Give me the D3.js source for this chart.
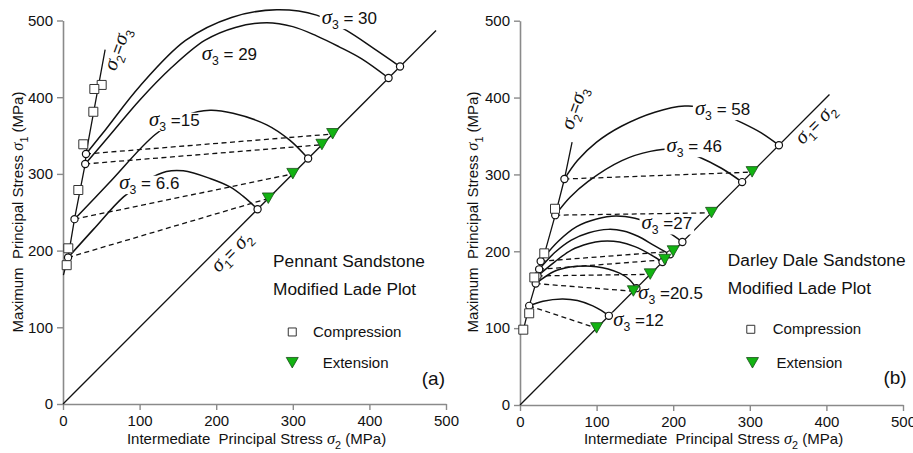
<!DOCTYPE html>
<html>
<head>
<meta charset="utf-8">
<script src="https://cdn.jsdelivr.net/npm/d3@7"></script>
<style>
  body { margin: 0; background: #fff; }
  svg { display: block; font-family: "Liberation Sans", Arial, Helvetica, sans-serif; }
  text { white-space: pre; }
</style>
</head>
<body>
<svg id="chart" width="913" height="453"></svg>
<script>
// ---------------- data (stresses in MPa, points are [σ2, σ1]) ----------------
const axisTicks = [0, 100, 200, 300, 400, 500];

// (a) Pennant Sandstone
const pennantSigma3 = [30, 29, 15, 6.6];
const pennantCompression = [[50.5, 416], [40.9, 410.7], [39.6, 381], [26.5, 338.6], [20, 279], [6.9, 203], [4.8, 181]];
const pennantTriaxialLine = [[0.5, 168], [6.6, 191], [15, 241], [29, 313], [30, 326], [55, 462]];
const pennantStartSigma1 = [326, 313, 241, 191];      // σ1 where σ2 = σ3
const pennantEndStress = [440, 425, 320, 254];        // σ1 = σ2 at the end of each curve
const pennantExtension = [352, 338, 300, 268];        // extension tests, σ1 = σ2
const pennantCurve30 = [[30, 326], [55, 357], [100, 414], [160, 474], [220, 504], [279, 514], [331, 507], [370, 487], [405, 464], [440, 440]];
const pennantCurve29 = [[29, 313], [60, 349], [100, 396], [140, 437], [185, 474], [225, 491], [266, 497], [300, 492], [331, 480], [360, 466], [390, 450], [425, 425]];
const pennantCurve15 = [[15, 241], [60, 288], [120, 351], [160, 376], [192, 383], [222, 379], [266, 364], [296, 344], [320, 320]];
const pennantCurve66 = [[6.6, 191], [40, 228], [79, 270], [110, 292], [135, 303], [157, 304], [192, 294], [218, 283], [235, 271], [254, 254]];
const pennantDiagonalEnd = 487;

// (b) Darley Dale Sandstone
const darleySigma3 = [58, 46, 27, 25, 23, 20.5, 12];
const darleyCompression = [[4.3, 98], [12, 119.3], [18.7, 166], [31.7, 197.3], [45.7, 255.3]];
const darleyTriaxialLine = [[5, 100], [12, 129], [20.5, 158], [23, 168], [25, 176.5], [27, 187], [32, 197], [46, 247], [58, 294], [68, 342]];
const darleyStartSigma1 = [294, 247, 187, 176.5, 168, 158, 129];
const darleyEndStress = [338, 290, 212, 196, 186, 152, 116];
const darleyExtension = [303, 250, 200, 189, 170, 148, 100];
const darleyCurve58 = [[58, 294], [75, 318], [100, 342], [133, 363], [176, 381], [215, 389], [250, 385], [288, 368], [315, 354], [338, 338]];
const darleyCurve46 = [[46, 247], [65, 270], [89, 291], [133, 318], [170, 330], [205, 333], [233, 323], [263, 308], [290, 290]];
const darleyCurve27 = [[27, 187], [50, 213], [74, 232], [100, 242], [125, 246], [150, 243], [175, 235], [198, 222], [212, 212]];
const darleyCurve25 = [[25, 176.5], [45, 198], [67, 214.5], [90, 224], [115, 228.5], [135, 226.5], [154, 219.5], [176, 207], [196, 196]];
const darleyCurve23 = [[23, 168], [45, 186], [67, 201.5], [90, 210], [106, 213], [130, 212], [150, 206], [170, 196], [186, 186]];
const darleyCurve205 = [[20.5, 158], [45, 174], [65, 179.5], [85, 181], [100, 180], [115, 177], [130, 171.5], [142, 164], [152, 152]];
const darleyCurve12 = [[12, 129], [30, 135], [55, 138], [75, 136], [95, 129], [106, 123], [116, 116]];
const darleyDiagonalEnd = 404;

// ---------------- layout ----------------
const panels = [
  {
    xRange: [63, 446], yRange: [404, 20.5], yTitleX: 23,
    sigma3: pennantSigma3, compression: pennantCompression, triaxial: pennantTriaxialLine,
    start: pennantStartSigma1, end: pennantEndStress, extension: pennantExtension,
    curves: [pennantCurve30, pennantCurve29, pennantCurve15, pennantCurve66],
    diagonalEnd: pennantDiagonalEnd,
    curveLabels: [
      { text: "σ_3 = 30", at: [337.7, 495.4] },
      { text: "σ_3 = 29", at: [181.1, 448.5] },
      { text: "σ_3 =15", at: [112.3, 362.5] },
      { text: "σ_3 = 6.6", at: [73.5, 280.3] }
    ],
    triaxialLabel: [78.3, 460.2], diagonalLabel: [225.5, 193],
    title: ["Pennant Sandstone", "Modified Lade Plot"], titleAt: [274.2, 178.6], title2At: [274.2, 142.1],
    legendSquare: [299.3, 93.9], legendSquareText: [326.4, 87.4],
    legendTri: [299.3, 53.5], legendTriText: [339, 46.9],
    tag: "(a)", tagAt: [498.7, 24.8]
  },
  {
    xRange: [520, 903], yRange: [405, 20.7], yTitleX: 478,
    sigma3: darleySigma3, compression: darleyCompression, triaxial: darleyTriaxialLine,
    start: darleyStartSigma1, end: darleyEndStress, extension: darleyExtension,
    curves: [darleyCurve58, darleyCurve46, darleyCurve27, darleyCurve25, darleyCurve23, darleyCurve205, darleyCurve12],
    diagonalEnd: darleyDiagonalEnd,
    curveLabels: [
      { text: "σ_3 = 58", at: [228.3, 377.3] },
      { text: "σ_3 = 46", at: [191.3, 329.1] },
      { text: "σ_3 =27", at: [158.7, 228.5] },
      { text: "σ_3 =20.5", at: [154.3, 137.9] },
      { text: "σ_3 =12", at: [121.7, 102.8] }
    ],
    triaxialLabel: [78.3, 383.8], diagonalLabel: [391.3, 360.3],
    title: ["Darley Dale Sandstone", "Modified Lade Plot"], titleAt: [271.3, 180.8], title2At: [271.3, 144.4],
    legendSquare: [301.3, 98.5], legendSquareText: [330, 92.4],
    legendTri: [303.5, 54.6], legendTriText: [334.8, 48.1],
    tag: "(b)", tagAt: [504.8, 27.3]
  }
];

const svg = d3.select("#chart");
const AXIS_GREY = "#8a8a8a";
const GREEN = "#12b312";

// Text with an italic Greek sigma and "_n" subscripts
function richText(parent, str, size, sigmaScale = 1.22) {
  const t = parent.append("text").attr("font-size", size).attr("fill", "#111");
  const parts = str.match(/σ|_[0-9]|[^σ_]+/g);
  const shift = size * 0.3;
  let lowered = false;
  parts.forEach(p => {
    const s = t.append("tspan");
    if (lowered && p[0] !== "_") { s.attr("dy", -shift); lowered = false; }
    if (p === "σ") {
      s.attr("font-family", "'Liberation Serif','DejaVu Serif',serif")
       .attr("font-style", "italic").attr("font-size", size * sigmaScale).text("σ");
    } else if (p[0] === "_") {
      s.attr("font-size", size * 0.72).attr("dy", lowered ? 0 : shift).text(p.slice(1));
      lowered = true;
    } else {
      s.text(p);
    }
  });
  return t;
}

const trianglePath = "M-6,-5.5L6,-5.5L0,5Z";
const squarePath = s => `M${-s / 2},${-s / 2}h${s}v${s}h${-s}Z`;

function drawPanel(p) {
  const x = d3.scaleLinear().domain([0, 500]).range(p.xRange);
  const y = d3.scaleLinear().domain([0, 500]).range(p.yRange);
  const g = svg.append("g");

  // axes
  const gx = g.append("g").attr("transform", `translate(0,${p.yRange[0]})`)
    .call(d3.axisBottom(x).tickValues(axisTicks).tickSize(6).tickSizeOuter(0).tickPadding(5));
  const gy = g.append("g").attr("transform", `translate(${p.xRange[0]},0)`)
    .call(d3.axisLeft(y).tickValues(axisTicks).tickSize(6).tickSizeOuter(0).tickPadding(4));
  [gx, gy].forEach(a => {
    a.attr("font-size", 15).attr("font-family", null);
    a.select(".domain").attr("stroke", AXIS_GREY).attr("stroke-width", 1.6);
    a.selectAll(".tick line").attr("stroke", AXIS_GREY).attr("stroke-width", 1.4);
    a.selectAll(".tick text").attr("fill", "#111");
  });

  // axis titles
  richText(g, "Intermediate  Principal Stress σ_2 (MPa)", 15, 1.1)
    .attr("x", (p.xRange[0] + p.xRange[1]) / 2 + 2).attr("y", 444).attr("text-anchor", "middle");
  richText(g, "Maximum  Principal Stress σ_1 (MPa)", 15, 1.1)
    .attr("text-anchor", "middle")
    .attr("transform", `translate(${p.yTitleX},212) rotate(-90)`);

  const line = d3.line().x(d => x(d[0])).y(d => y(d[1]));
  const smooth = d3.line().x(d => x(d[0])).y(d => y(d[1])).curve(d3.curveCatmullRom.alpha(0.5));

  // σ1 = σ2 line
  g.append("path").attr("d", line([[0, 0], [p.diagonalEnd, p.diagonalEnd]]))
    .attr("fill", "none").attr("stroke", "#111").attr("stroke-width", 1.3);
  // σ2 = σ3 line
  g.append("path").attr("d", line(p.triaxial))
    .attr("fill", "none").attr("stroke", "#111").attr("stroke-width", 1.3);

  // failure curves for each σ3
  g.selectAll(null).data(p.curves).join("path")
    .attr("d", d => smooth(d))
    .attr("fill", "none").attr("stroke", "#111").attr("stroke-width", 1.5);

  // dashed tie lines from σ2 = σ3 to the extension test
  g.selectAll(null).data(p.sigma3).join("path")
    .attr("d", (s, i) => line([[s, p.start[i]], [p.extension[i], p.extension[i]]]))
    .attr("fill", "none").attr("stroke", "#111").attr("stroke-width", 1.3)
    .attr("stroke-dasharray", "5,3.5");

  // curve labels on a white patch that breaks the curve underneath
  const labelSize = 17;
  p.curveLabels.forEach(l => {
    const lg = g.append("g");
    const bx = x(l.at[0]), by = y(l.at[1]);
    const t = richText(lg, l.text, labelSize).attr("x", bx).attr("y", by);
    const b = t.node().getBBox();
    lg.insert("rect", "text")
      .attr("x", b.x - 2).attr("y", by - labelSize * 0.78)
      .attr("width", b.width + 4).attr("height", labelSize * 1.08)
      .attr("fill", "#fff");
  });

  // rotated line labels
  richText(g, "σ_2=σ_3", 17).attr("text-anchor", "middle")
    .attr("transform", `translate(${x(p.triaxialLabel[0])},${y(p.triaxialLabel[1])}) rotate(-70)`);
  richText(g, "σ_1= σ_2", 17).attr("text-anchor", "middle")
    .attr("transform", `translate(${x(p.diagonalLabel[0])},${y(p.diagonalLabel[1])}) rotate(-45)`);

  // circles at the ends of each curve
  const ends = [];
  p.sigma3.forEach((s, i) => { ends.push([s, p.start[i]]); ends.push([p.end[i], p.end[i]]); });
  g.selectAll(null).data(ends).join("circle")
    .attr("cx", d => x(d[0])).attr("cy", d => y(d[1])).attr("r", 3.6)
    .attr("fill", "#fff").attr("stroke", "#111").attr("stroke-width", 1.2);

  // compression tests
  g.selectAll(null).data(p.compression).join("path")
    .attr("d", squarePath(9))
    .attr("transform", d => `translate(${x(d[0])},${y(d[1])})`)
    .attr("fill", "#fff").attr("stroke", "#333").attr("stroke-width", 1);

  // extension tests
  g.selectAll(null).data(p.extension).join("path")
    .attr("d", trianglePath)
    .attr("transform", d => `translate(${x(d)},${y(d)})`)
    .attr("fill", GREEN).attr("stroke", "#1b4d1b").attr("stroke-width", 0.8);

  // panel title
  g.append("text").attr("x", x(p.titleAt[0])).attr("y", y(p.titleAt[1]))
    .attr("font-size", 17.3).attr("fill", "#111").text(p.title[0]);
  g.append("text").attr("x", x(p.title2At[0])).attr("y", y(p.title2At[1]))
    .attr("font-size", 17.3).attr("fill", "#111").text(p.title[1]);

  // legend
  g.append("path").attr("d", squarePath(8))
    .attr("transform", `translate(${x(p.legendSquare[0])},${y(p.legendSquare[1])})`)
    .attr("fill", "#fff").attr("stroke", "#333").attr("stroke-width", 1);
  g.append("text").attr("x", x(p.legendSquareText[0])).attr("y", y(p.legendSquareText[1]))
    .attr("font-size", 15).attr("fill", "#111").text("Compression");
  g.append("path").attr("d", trianglePath)
    .attr("transform", `translate(${x(p.legendTri[0])},${y(p.legendTri[1])})`)
    .attr("fill", GREEN).attr("stroke", "#1b4d1b").attr("stroke-width", 0.8);
  g.append("text").attr("x", x(p.legendTriText[0])).attr("y", y(p.legendTriText[1]))
    .attr("font-size", 15).attr("fill", "#111").text("Extension");

  // panel tag
  g.append("text").attr("x", x(p.tagAt[0])).attr("y", y(p.tagAt[1]))
    .attr("text-anchor", "end").attr("font-size", 19).attr("fill", "#111").text(p.tag);
}

panels.forEach(drawPanel);
</script>
</body>
</html>
